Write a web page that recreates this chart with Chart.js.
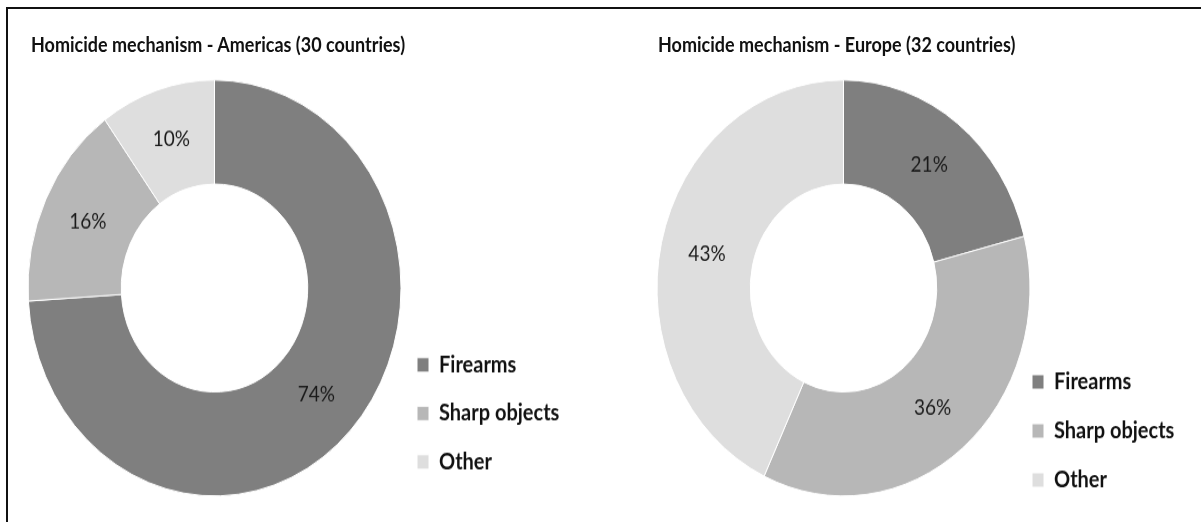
<!DOCTYPE html>
<html>
<head>
<meta charset="utf-8">
<script src="https://cdn.jsdelivr.net/npm/chart.js@4.4.0/dist/chart.umd.min.js"></script>
<style>
  html, body { margin: 0; padding: 0; background: #fff; overflow: hidden; }
  body { width: 1201px; height: 522px; position: relative; }
  .frame { position: absolute; left: 6px; top: 7px; width: 1300px; height: 600px; border: 2px solid #111; }
  .panel { position: absolute; top: 0; width: 600px; height: 468px; transform: scaleY(1.115); transform-origin: 0 0; }
  .panel canvas { display: block; }
  .title { position: absolute; top: 30px; font: bold 18px Lato, sans-serif; line-height: 20px; color: #111; white-space: nowrap; }
</style>
</head>
<body>
<div class="frame"></div>
<div class="panel" style="left:0">
  <div class="title" id="titleAmericas" style="left:31px"></div>
  <canvas id="americasChart" width="600" height="468"></canvas>
</div>
<div class="panel" style="left:600px">
  <div class="title" id="titleEurope" style="left:58px"></div>
  <canvas id="europeChart" width="601" height="468"></canvas>
</div>
<script>
// data
const categories = ["Firearms", "Sharp objects", "Other"];
const americasShare = [74, 16, 10];
const europeShare = [21, 36, 43];
const chartTitles = ["Homicide mechanism - Americas (30 countries)", "Homicide mechanism - Europe (32 countries)"];
const shades = ["#7f7f7f", "#b7b7b7", "#dedede"];

document.getElementById("titleAmericas").textContent = chartTitles[0];
document.getElementById("titleEurope").textContent = chartTitles[1];

// percentage text in the middle of each ring slice
const sliceLabels = {
    id: "sliceLabels",
    afterDatasetsDraw(chart) {
        const ctx = chart.ctx;
        const values = chart.data.datasets[0].data;
        ctx.save();
        ctx.font = "19px Lato, sans-serif";
        ctx.fillStyle = "#1a1a1a";
        ctx.textAlign = "center";
        ctx.textBaseline = "middle";
        chart.getDatasetMeta(0).data.forEach((arc, i) => {
            const pos = arc.tooltipPosition();
            ctx.fillText(values[i] + "%", pos.x, pos.y);
        });
        ctx.restore();
    }
};

function makeDonut(canvasId, values, pad, legendGap, legendLeft) {
    const ctx = document.getElementById(canvasId).getContext("2d");
    const chart = new Chart(ctx, {
        type: "doughnut",
        data: {
            labels: categories,
            datasets: [{
                data: values,
                backgroundColor: shades,
                borderColor: "#fff",
                borderWidth: 1
            }]
        },
        options: {
            responsive: false,
            animation: false,
            events: [],
            radius: 186.5,
            cutout: "50%",
            clip: false,
            layout: { padding: pad },
            plugins: {
                tooltip: { enabled: false },
                legend: {
                    position: "right",
                    align: "end",
                    labels: {
                        boxWidth: 12,
                        boxHeight: 13,
                        padding: legendGap,
                        color: "#111",
                        font: { family: "Lato", size: 20, weight: "bold" }
                    }
                }
            }
        },
        plugins: [sliceLabels]
    });
    // shift the legend column so it starts where the picture has it
    pad.right += chart.legend.left - legendLeft;
    chart.config.options.layout.padding = pad;
    chart.update();
    return chart;
}

makeDonut("americasChart", americasShare, { left: 35.5, right: 40, top: 68.8, bottom: 20.2 }, 23.5, 393.5);
makeDonut("europeChart", europeShare, { left: 79, right: 30, top: 52.1, bottom: 3.5 }, 24, 408);
</script>
</body>
</html>
